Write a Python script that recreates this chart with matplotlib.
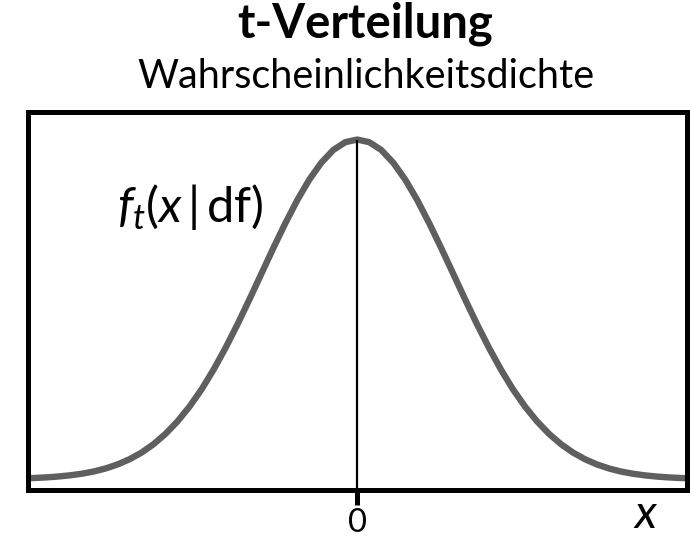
import matplotlib
matplotlib.use("Agg")
import matplotlib.pyplot as plt

# t-Verteilung, Dichte
x_vals = [-3.5, -3.375, -3.25, -3.125, -3.0, -2.875, -2.75, -2.625, -2.5, -2.375,
          -2.25, -2.125, -2.0, -1.875, -1.75, -1.625, -1.5, -1.375, -1.25, -1.125,
          -1.0, -0.875, -0.75, -0.625, -0.5, -0.375, -0.25, -0.125, 0.0,
          0.125, 0.25, 0.375, 0.5, 0.625, 0.75, 0.875, 1.0, 1.125, 1.25,
          1.375, 1.5, 1.625, 1.75, 1.875, 2.0, 2.125, 2.25, 2.375, 2.5,
          2.625, 2.75, 2.875, 3.0, 3.125, 3.25, 3.375, 3.5]
density = [0.0024, 0.0029, 0.0036, 0.0046, 0.0060, 0.0079, 0.0105, 0.0141, 0.0188, 0.0249,
           0.0327, 0.0425, 0.0546, 0.0692, 0.0865, 0.1065, 0.1295, 0.1550, 0.1826, 0.2119,
           0.2420, 0.2721, 0.3011, 0.3282, 0.3521, 0.3718, 0.3867, 0.3958, 0.3989,
           0.3958, 0.3867, 0.3718, 0.3521, 0.3282, 0.3011, 0.2721, 0.2420, 0.2119, 0.1826,
           0.1550, 0.1295, 0.1065, 0.0865, 0.0692, 0.0546, 0.0425, 0.0327, 0.0249, 0.0188,
           0.0141, 0.0105, 0.0079, 0.0060, 0.0046, 0.0036, 0.0029, 0.0024]
tick_pos = [0]
tick_labels = ["0"]

plt.rcParams['font.family'] = ['Lato', 'DejaVu Sans']
plt.rcParams['mathtext.fontset'] = 'custom'
plt.rcParams['mathtext.rm'] = 'Lato'
plt.rcParams['mathtext.it'] = 'Lato:italic'

fig = plt.figure(figsize=(6.9, 5.37), dpi=100)
ax = fig.add_axes([0.0399, 0.0866, 0.9558, 0.7048])

ax.plot(x_vals, density, color='#5f5f5f', lw=4.6, solid_capstyle='butt', zorder=2)

y_bottom, y_top = -0.0117, 0.4311
peak = max(density)
ax.vlines(x_vals[density.index(peak)], y_bottom, peak, color='black', lw=1.6, zorder=3)

ax.set_xlim(-3.44, 3.44)
ax.set_ylim(y_bottom, y_top)
ax.set_yticks([])
ax.set_xticks(tick_pos)
ax.set_xticklabels(tick_labels)
ax.tick_params(axis='x', length=11, width=3.6, labelsize=23.5, pad=1.5)
for sp in ax.spines.values():
    sp.set_linewidth(3.6)

ax.text(0.135, 0.709, r"$f_t(x\,|\,\mathrm{df})$", transform=ax.transAxes,
        fontsize=35, ha='left', va='baseline')

fig.text(365 / 690, 1 - 37 / 537, "t-Verteilung", ha='center', va='baseline',
         fontsize=34, fontweight='bold')
fig.text(366 / 690, 1 - 88 / 537, "Wahrscheinlichkeitsdichte", ha='center',
         va='baseline', fontsize=28.5)
fig.text(645 / 690, 1 - 528 / 537, "x", ha='center', va='baseline',
         fontsize=34, style='italic')

fig.savefig("out.png", dpi=100)
